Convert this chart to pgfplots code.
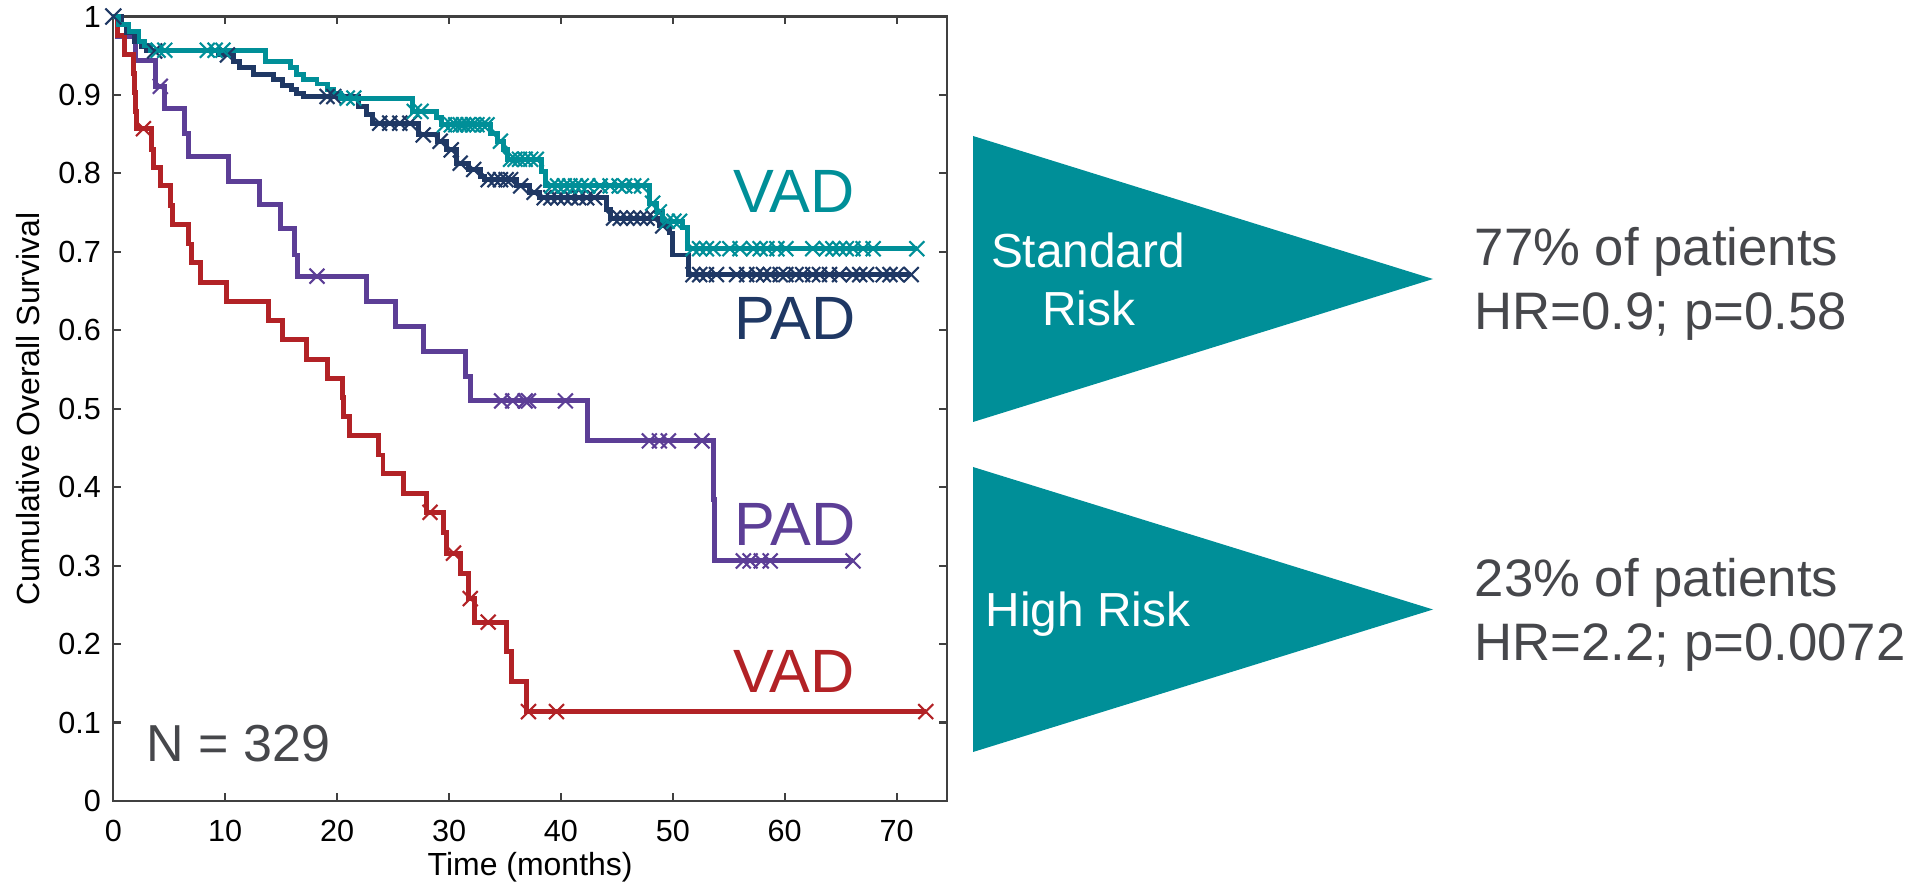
\documentclass[border=0pt]{standalone}
\usepackage{pgfplots}
\pgfplotsset{compat=1.18}
\usepackage{fontspec}
\setmainfont{Liberation Sans}

\definecolor{cTeal}{RGB}{0,143,152}
\definecolor{cNavy}{RGB}{31,56,100}
\definecolor{cPurple}{RGB}{92,62,150}
\definecolor{cRed}{RGB}{178,34,38}
\definecolor{cGray}{RGB}{70,71,75}

\begin{document}
\begin{tikzpicture}[x=1mm,y=1mm]
\useasboundingbox (0,0) rectangle (191.7,88.6);
\begin{axis}[
  at={(11.33mm,8.5mm)}, anchor=south west,
  scale only axis, width=83.37mm, height=78.45mm,
  xmin=0, xmax=74.5, ymin=0, ymax=1,
  xtick={0,10,...,70},
  ytick={0,0.1,...,1.0},
  tick align=inside,
  major tick length=0.8mm,
  axis line style={draw=black!75, line width=0.6pt},
  tick style={draw=black!75, line width=0.6pt},
  /pgf/number format/assume math mode=true,
  ticklabel style={font=\fontsize{8.7}{10}\selectfont},
  yticklabel style={/pgf/number format/fixed, /pgf/number format/precision=1},
  xticklabel style={yshift=-2pt},
  xlabel={Time (months)},
  ylabel={Cumulative Overall Survival},
  label style={font=\fontsize{9.1}{11}\selectfont},
  xlabel style={at={(axis description cs:0.5,-0.0841)}, anchor=center},
  ylabel style={at={(axis description cs:-0.1023,0.5)}, anchor=center},
  clip=false,
  every axis plot/.append style={line width=1.4pt},
  cens/.style={only marks, mark=x, mark size=3pt, mark options={line width=0.6pt}},
]
% high risk, PAD
\addplot[cPurple, const plot, no marks] coordinates {
  (0,1) (0.4,0.975) (2.0,0.944) (3.75,0.911) (4.6,0.883) (6.4,0.851)
  (6.7,0.822) (10.3,0.790) (13.1,0.760) (14.9,0.730) (16.2,0.696)
  (16.5,0.669) (22.6,0.637) (25.2,0.605) (27.7,0.573) (31.5,0.541)
  (31.9,0.510) (42.4,0.459) (53.6,0.384) (53.75,0.306) (66.1,0.306)
};
\addplot[cPurple, cens] coordinates {
  (4.2,0.911) (18.2,0.669) (34.7,0.510) (35.7,0.510) (36.8,0.510) (37.1,0.510)
  (40.4,0.510) (47.9,0.459) (48.8,0.459) (49.6,0.459) (52.6,0.459)
  (56.3,0.306) (56.9,0.306) (57.9,0.306) (58.7,0.306) (66.1,0.306)
};
% high risk, VAD
\addplot[cRed, const plot, no marks] coordinates {
  (0,1) (0.4,0.976) (1.0,0.952) (1.8,0.927) (1.9,0.903) (2.0,0.879)
  (2.1,0.857) (3.45,0.831) (3.6,0.808) (4.2,0.784) (5.1,0.759) (5.25,0.735)
  (6.7,0.710) (7.0,0.686) (7.8,0.661) (10.15,0.637) (13.9,0.612)
  (15.1,0.588) (17.3,0.563) (19.1,0.539) (20.5,0.514) (20.6,0.490)
  (21.1,0.466) (23.7,0.441) (24.1,0.417) (25.9,0.392) (28.0,0.368)
  (29.5,0.342) (29.8,0.316) (31.0,0.290) (31.7,0.258) (32.3,0.228)
  (35.1,0.190) (35.6,0.152) (36.9,0.114) (72.6,0.114)
};
\addplot[cRed, cens] coordinates {
  (2.7,0.857) (28.3,0.368) (30.4,0.316) (31.9,0.258) (33.5,0.228)
  (37.1,0.114) (39.6,0.114) (72.6,0.114)
};
% standard risk, PAD
\addplot[cNavy, const plot, no marks] coordinates {
  (0,1) (0.7,0.990) (1.2,0.979) (1.9,0.968) (2.5,0.962) (3.0,0.956)
  (9.4,0.951) (10.7,0.943) (11.3,0.935) (12.5,0.926) (14.3,0.920)
  (15.1,0.912) (15.9,0.907) (16.4,0.902) (17.0,0.898) (21.9,0.885)
  (22.6,0.875) (23.2,0.864) (27.3,0.849) (29.0,0.841) (29.8,0.830)
  (30.7,0.813) (31.7,0.805) (32.8,0.796) (33.2,0.792) (36.0,0.784)
  (37.2,0.776) (38.1,0.769) (44.1,0.754) (44.4,0.743) (48.8,0.733)
  (49.7,0.724) (50.0,0.696) (51.4,0.671) (71.3,0.671)
};
\addplot[cNavy, cens] coordinates {
  (3.7,0.956) (10.2,0.951) (19.1,0.898) (19.7,0.898) (23.8,0.864) (24.7,0.864)
  (25.6,0.864) (26.5,0.864) (27.7,0.849) (29.2,0.841) (30.2,0.830) (31.0,0.813)
  (32.2,0.805) (33.5,0.792) (34.1,0.792) (34.6,0.792) (35.1,0.792) (35.5,0.792)
  (36.4,0.784) (37.6,0.776) (38.5,0.769) (39.1,0.769) (39.7,0.769) (40.3,0.769)
  (40.9,0.769) (41.6,0.769) (42.3,0.769) (43.0,0.769) (44.7,0.743) (45.3,0.743)
  (45.9,0.743) (46.5,0.743) (47.1,0.743) (47.7,0.743) (48.3,0.743) (49.1,0.733)
  (51.8,0.671) (52.4,0.671) (53.0,0.671) (53.9,0.671) (55.7,0.671) (56.6,0.671)
  (57.5,0.671) (58.1,0.671) (58.7,0.671) (59.6,0.671) (60.1,0.671) (61.0,0.671)
  (61.6,0.671) (62.5,0.671) (63.1,0.671) (64.0,0.671) (64.9,0.671) (66.1,0.671)
  (66.7,0.671) (67.3,0.671) (68.8,0.671) (69.4,0.671) (70.0,0.671) (71.3,0.671)
};
% standard risk, VAD
\addplot[cTeal, const plot, no marks] coordinates {
  (0,1) (0.5,0.990) (1.4,0.981) (2.3,0.968) (2.8,0.963) (3.3,0.957)
  (13.6,0.943) (15.8,0.935) (16.4,0.926) (17.0,0.920) (18.2,0.914)
  (19.1,0.907) (19.7,0.902) (20.3,0.896) (26.7,0.879) (28.9,0.871)
  (29.3,0.862) (33.7,0.851) (34.3,0.841) (34.9,0.830) (35.2,0.818)
  (38.3,0.802) (38.6,0.784) (47.9,0.762) (48.5,0.751) (49.1,0.739)
  (50.9,0.731) (51.3,0.704) (71.8,0.704)
};
\addplot[cTeal, cens] coordinates {
  (4.0,0.957) (4.6,0.957) (8.4,0.957) (9.1,0.957) (9.8,0.957) (20.9,0.896)
  (21.5,0.896) (26.9,0.879) (27.5,0.879) (29.6,0.862) (30.2,0.862) (30.6,0.862)
  (31.0,0.862) (31.3,0.862) (31.7,0.862) (32.1,0.862) (32.5,0.862) (33.0,0.862)
  (33.4,0.862) (34.6,0.841) (35.5,0.818) (35.9,0.818) (36.3,0.818) (36.8,0.818)
  (37.3,0.818) (37.8,0.818) (39.2,0.784) (39.7,0.784) (40.3,0.784) (40.8,0.784)
  (41.3,0.784) (41.8,0.784) (42.4,0.784) (43.5,0.784) (44.4,0.784) (45.2,0.784)
  (45.7,0.784) (46.5,0.784) (47.2,0.784) (48.2,0.762) (48.8,0.751) (49.5,0.739)
  (50.1,0.739) (50.6,0.739) (51.8,0.704) (52.4,0.704) (53.0,0.704) (53.6,0.704)
  (55.1,0.704) (56.0,0.704) (57.2,0.704) (57.8,0.704) (58.4,0.704) (59.3,0.704)
  (60.1,0.704) (62.5,0.704) (63.7,0.704) (64.3,0.704) (64.9,0.704) (65.5,0.704)
  (66.1,0.704) (67.0,0.704) (67.9,0.704) (71.8,0.704)
};
\addplot[cNavy, cens, mark size=3.2pt] coordinates {(0,1)};
% curve labels
\node[cTeal, font=\fontsize{17.4}{20}\selectfont, inner sep=0pt] at (axis cs:60.8,0.777) {VAD};
\node[cNavy, font=\fontsize{17.4}{20}\selectfont, inner sep=0pt] at (axis cs:60.9,0.615) {PAD};
\node[cPurple, font=\fontsize{17.4}{20}\selectfont, inner sep=0pt] at (axis cs:60.9,0.352) {PAD};
\node[cRed, font=\fontsize{17.4}{20}\selectfont, inner sep=0pt] at (axis cs:60.8,0.165) {VAD};
\node[cGray, font=\fontsize{14.8}{17}\selectfont, inner sep=0pt] at (axis cs:11.2,0.073) {N = 329};
\end{axis}
% risk groups
\fill[cTeal] (97.3,75.0) -- (97.3,46.4) -- (143.3,60.7) -- cycle;
\fill[cTeal] (97.3,41.9) -- (97.3,13.4) -- (143.3,27.65) -- cycle;
\node[white, font=\fontsize{13.6}{16}\selectfont, anchor=base, inner sep=0pt] at (108.8,61.8) {Standard};
\node[white, font=\fontsize{13.6}{16}\selectfont, anchor=base, inner sep=0pt] at (108.85,56.0) {Risk};
\node[white, font=\fontsize{13.6}{16}\selectfont, anchor=base, inner sep=0pt] at (108.8,25.93) {High Risk};
\begin{scope}[every node/.style={cGray, font=\fontsize{15}{18}\selectfont, anchor=base west, inner sep=0pt}]
\node at (147.4,62.0) {77\% of patients};
\node at (147.4,55.6) {HR=0.9; p=0.58};
\node at (147.4,28.93) {23\% of patients};
\node at (147.4,22.53) {HR=2.2; p=0.0072};
\end{scope}
\end{tikzpicture}
\end{document}
